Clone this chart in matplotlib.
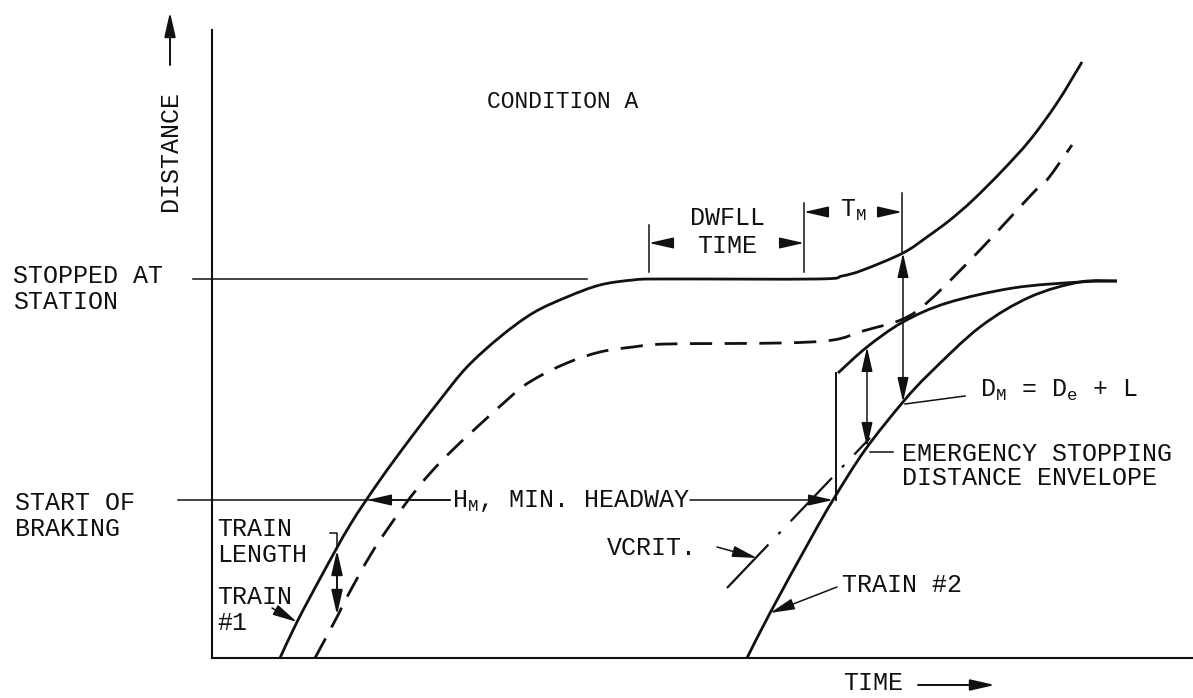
import matplotlib
matplotlib.use('Agg')
import matplotlib.pyplot as plt
from matplotlib.path import Path
from matplotlib.patches import PathPatch

plt.rcParams['font.family'] = ['Liberation Mono', 'DejaVu Sans Mono']
plt.rcParams['mathtext.fontset'] = 'custom'
plt.rcParams['mathtext.rm'] = 'Liberation Mono'
plt.rcParams['mathtext.it'] = 'Liberation Mono'

# ---- schematic data (time, distance) ----
train1_t = [68, 85, 110, 138, 168, 198, 228, 255, 288, 321, 355, 388, 421, 450, 605,
            630, 651, 691, 715, 738, 761, 790, 818, 845, 870]
train1_d = [0, 36, 83, 133, 178, 219, 258, 291, 321, 345, 361, 373, 378, 379, 379,
            382, 388, 405, 421, 438, 458, 487, 518, 555, 596]

train1_rear_t = [103, 125, 135, 168, 221, 295, 321, 355, 388, 421, 455, 568, 621,
                 651, 691, 718, 768, 821, 835, 860]
train1_rear_d = [0, 41, 61, 118, 188, 258, 278, 295, 306, 311, 314, 315, 318,
                 327, 339, 358, 408, 465, 478, 513]

envelope_t = [626, 655, 691, 735, 801, 868, 905]
envelope_d = [285, 311, 336, 355, 370, 376, 377]

train2_t = [535, 558, 598, 621, 653, 691, 718, 768, 818, 868, 905]
train2_d = [0, 45, 118, 158, 208, 256, 285, 331, 361, 376, 377]

vcrit_t = [515, 658]
vcrit_d = [70, 220]

stopped_level = 379
braking_level = 158
envelope_start_t = 624
dm_t = 691
small_t = 655
train_len_t = 125
dwell_start, dwell_end, tm_end = 437, 592, 690

fig = plt.figure(figsize=(11.93, 6.98), dpi=100)
ax = fig.add_axes([0, 0, 1, 1])
ax.set_xlim(-212, 981)
ax.set_ylim(-40, 658)
ax.axis('off')

K = '#111111'
LW = 2.0
TH = 1.1
FS = 18


def smooth_curve(xs, ys, **kw):
    """Draw a smooth curve through the given points (Catmull-Rom as Bezier path)."""
    pts = list(zip(xs, ys))
    verts = [pts[0]]
    codes = [Path.MOVETO]
    n = len(pts)
    for i in range(n - 1):
        p0 = pts[i - 1] if i > 0 else pts[i]
        p1 = pts[i]
        p2 = pts[i + 1]
        p3 = pts[i + 2] if i + 2 < n else pts[i + 1]
        c1 = (p1[0] + (p2[0] - p0[0]) / 6.0, p1[1] + (p2[1] - p0[1]) / 6.0)
        c2 = (p2[0] - (p3[0] - p1[0]) / 6.0, p2[1] - (p3[1] - p1[1]) / 6.0)
        verts += [c1, c2, p2]
        codes += [Path.CURVE4] * 3
    patch = PathPatch(Path(verts, codes), facecolor='none', edgecolor=K, **kw)
    ax.add_patch(patch)


def arrow(x0, y0, x1, y1, style='-|>', lw=TH):
    ax.annotate('', xy=(x1, y1), xytext=(x0, y0),
                arrowprops=dict(arrowstyle=style + ',head_length=0.75,head_width=0.17',
                                mutation_scale=20, lw=lw, color=K,
                                shrinkA=0, shrinkB=0))


# axes
ax.plot([0, 0], [0, 628], color=K, lw=1.5)
ax.plot([0, 981], [0, 0], color=K, lw=1.5)

# curves
smooth_curve(train1_t, train1_d, lw=LW)
smooth_curve(train1_rear_t, train1_rear_d, lw=LW, linestyle=(0, (8, 4.5)))
smooth_curve(envelope_t, envelope_d, lw=LW)
smooth_curve(train2_t, train2_d, lw=LW)
ax.plot(vcrit_t, vcrit_d, color=K, lw=1.6, linestyle=(0, (27, 6.5, 1.5, 6.5)))
ax.plot([envelope_start_t, envelope_start_t], [braking_level, 285], color=K, lw=1.4)

# reference lines
ax.plot([-19, 375], [stopped_level, stopped_level], color=K, lw=TH)
ax.plot([-34, 238], [braking_level, braking_level], color=K, lw=TH)
arrow(238, braking_level, 155, braking_level)
arrow(478, braking_level, 621, braking_level)

# dwell / TM dimension
ax.plot([dwell_start, dwell_start], [386, 433], color=K, lw=TH)
ax.plot([dwell_end, dwell_end], [386, 455], color=K, lw=TH)
ax.plot([tm_end, tm_end], [406, 465], color=K, lw=TH)
arrow(461, 415, dwell_start, 415)
arrow(570, 415, dwell_end, 415)
arrow(615, 446, dwell_end, 446)
arrow(670, 446, tm_end, 446)

# vertical dimension arrows
arrow(dm_t, 256, dm_t, 405, style='<|-|>')
arrow(small_t, 211, small_t, 311, style='<|-|>')
arrow(train_len_t, 43, train_len_t, 108, style='<|-|>', lw=1.4)
ax.plot([118, train_len_t, train_len_t], [125, 125, 112], color=K, lw=TH)

# leaders
ax.plot([753, 693], [262, 254], color=K, lw=TH)
ax.plot([681, 658], [206, 206], color=K, lw=TH)
arrow(625, 71, 558, 45)
arrow(505, 111, 545, 100)
arrow(60, 50, 85, 36)

# distance / time arrows
arrow(-42, 593, -42, 646, lw=1.4)
arrow(706, -27, 783, -27, lw=1.4)

# texts
ax.text(-42, 507, 'DISTANCE', rotation=90, ha='center', va='center', fontsize=FS, color=K)
ax.text(351, 556, 'CONDITION A', ha='center', va='center', fontsize=16.5, color=K)
ax.text(-199, 369, 'STOPPED AT\nSTATION', ha='left', va='center', fontsize=FS,
        color=K, linespacing=1.15)
ax.text(-197, 142, 'START OF\nBRAKING', ha='left', va='center', fontsize=FS,
        color=K, linespacing=1.15)
ax.text(5, 116, 'TRAIN\nLENGTH', ha='left', va='center', fontsize=FS, color=K,
        linespacing=1.1)
ax.text(5, 48, 'TRAIN\n#1', ha='left', va='center', fontsize=FS, color=K,
        linespacing=1.1)
ax.text(515, 426, 'DWFLL\nTIME', ha='center', va='center', fontsize=FS, color=K,
        linespacing=1.2)
ax.text(641, 448, r'T$_\mathregular{M}$', ha='center', va='center', fontsize=FS, color=K)
ax.text(240, 157, r'H$_\mathregular{M}$, MIN. HEADWAY', ha='left', va='center',
        fontsize=FS, color=K)
ax.text(768, 268, r'D$_\mathregular{M}$ = D$_\mathregular{e}$ + L', ha='left',
        va='center', fontsize=FS, color=K)
ax.text(690, 192, 'EMERGENCY STOPPING\nDISTANCE ENVELOPE', ha='left', va='center',
        fontsize=FS, color=K, linespacing=1.05)
ax.text(395, 110, 'VCRIT.', ha='left', va='center', fontsize=FS, color=K)
ax.text(630, 73, 'TRAIN #2', ha='left', va='center', fontsize=FS, color=K)
ax.text(631, -25, 'TIME', ha='left', va='center', fontsize=FS, color=K)

fig.savefig('out.png', dpi=100, facecolor='white')
